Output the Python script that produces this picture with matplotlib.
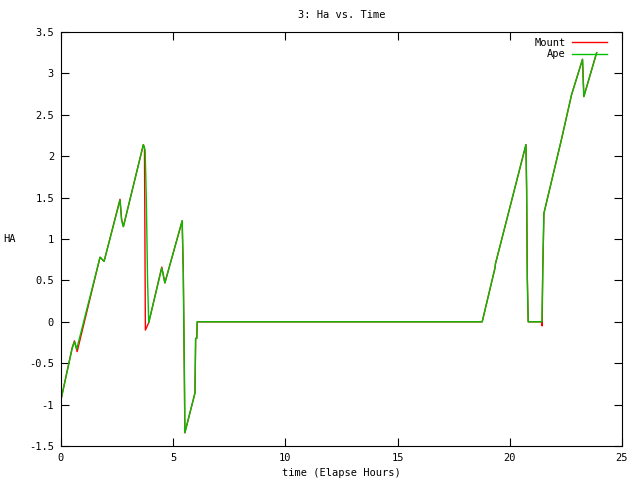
import numpy as np
from matplotlib import pyplot as plt

# elapsed hours / hour angle
ape_t = [0.0, 0.5, 0.6, 0.7, 1.74, 1.92, 2.63, 2.70, 2.78, 3.67, 3.75, 3.80, 3.86, 3.91,
         4.49, 4.63, 5.40, 5.45, 5.50, 5.52, 5.97, 6.0, 6.05, 6.07, 18.77, 19.34, 19.36,
         20.72, 20.75, 20.78, 20.82, 21.43, 21.47, 21.52, 22.3, 22.75, 23.24, 23.30, 23.87]
ape_ha = [-0.94, -0.32, -0.24, -0.33, 0.78, 0.73, 1.47, 1.23, 1.15, 2.14, 2.07, 1.51, 0.47, -0.01,
          0.65, 0.47, 1.22, 0.59, -0.70, -1.34, -0.86, -0.2, -0.2, 0.0, 0.0, 0.65, 0.70,
          2.14, 1.60, 0.53, 0.0, 0.0, 0.64, 1.31, 2.2, 2.74, 3.17, 2.72, 3.25]

mount_t = [0.0, 0.5, 0.6, 0.72, 1.74, 1.92, 2.63, 2.70, 2.78, 3.67, 3.72, 3.76, 3.91,
           4.49, 4.63, 5.40, 5.45, 5.50, 5.52, 5.97, 6.0, 6.05, 6.07, 18.77, 19.34, 19.36,
           20.72, 20.75, 20.78, 20.82, 21.42, 21.44, 21.47, 21.52, 22.3, 22.75, 23.24, 23.30, 23.87]
mount_ha = [-0.94, -0.31, -0.23, -0.36, 0.78, 0.73, 1.48, 1.24, 1.15, 2.14, 2.10, -0.10, -0.01,
            0.66, 0.47, 1.22, 0.59, -0.70, -1.34, -0.86, -0.2, -0.2, 0.0, 0.0, 0.65, 0.70,
            2.14, 1.60, 0.53, 0.0, 0.0, -0.05, 0.64, 1.31, 2.2, 2.74, 3.17, 2.72, 3.25]

plt.rcParams['font.family'] = 'DejaVu Sans Mono'
plt.rcParams['font.size'] = 7.5

fig = plt.figure(figsize=(6.4, 4.8), dpi=100)
ax = fig.add_axes([61/640, 34/480, 561/640, 414/480])

ax.plot(mount_t, mount_ha, color='#ff0000', lw=1.0, label='Mount')
ax.plot(ape_t, ape_ha, color='#00c000', lw=1.0, label='Ape')

ax.set_xlim(0, 25)
ax.set_ylim(-1.5, 3.5)
ax.set_xticks(np.arange(0, 26, 5))
ax.set_yticks(np.arange(-1.5, 3.51, 0.5))
ax.set_yticklabels(['-1.5', '-1', '-0.5', '0', '0.5', '1', '1.5', '2', '2.5', '3', '3.5'])
ax.tick_params(direction='in', length=6, top=True, right=True, pad=5)

ax.set_title('3: Ha vs. Time', fontsize=7.5, pad=10)
ax.set_xlabel('time (Elapse Hours)', labelpad=4)
ax.set_ylabel('HA', rotation=0, labelpad=14, va='center')

ax.legend(loc='upper right', bbox_to_anchor=(0.9786, 0.9928), frameon=False,
          markerfirst=False, handlelength=3.3, borderaxespad=0, labelspacing=0.1,
          handletextpad=0.65, borderpad=0.3)

fig.savefig('out.png', dpi=100)
